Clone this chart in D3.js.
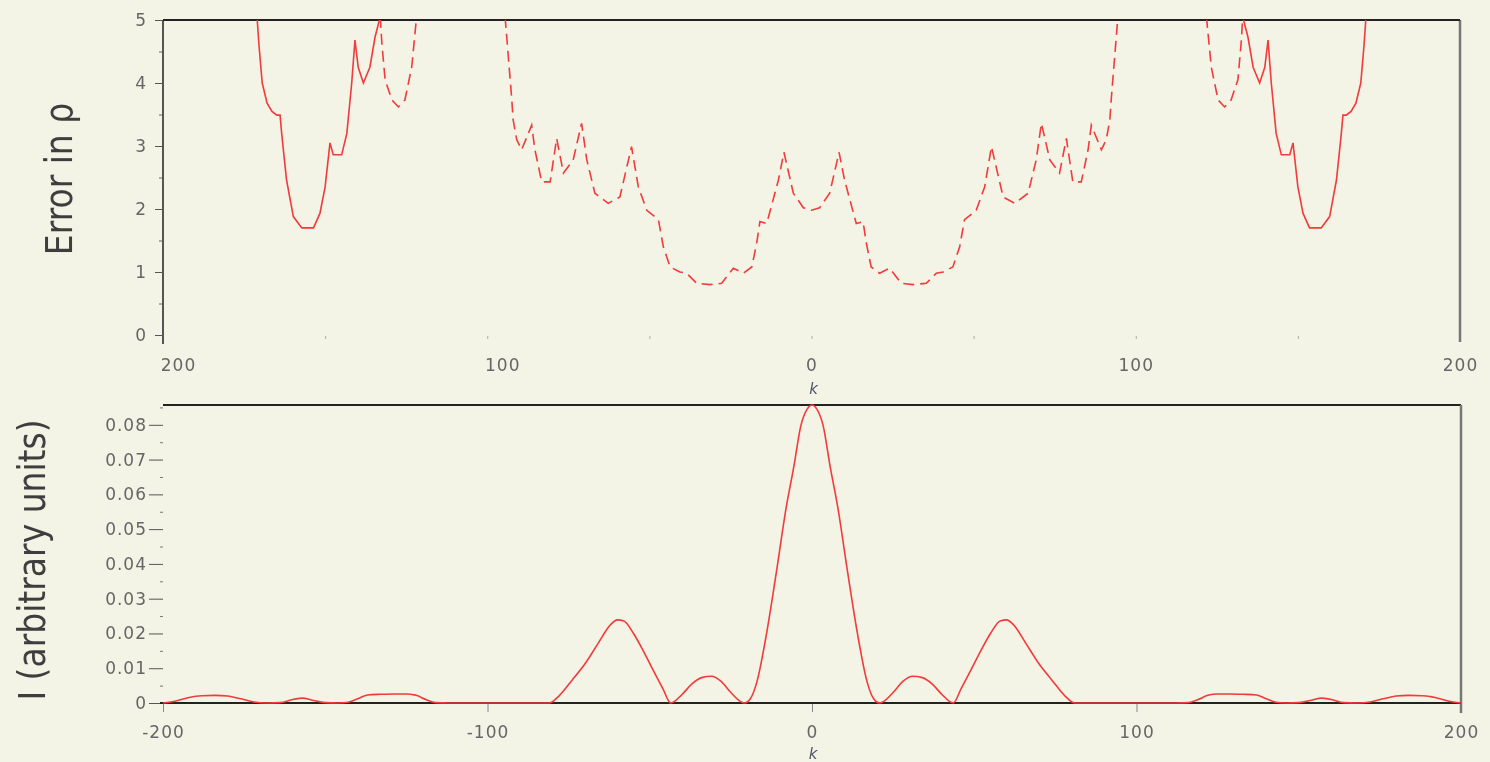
<!DOCTYPE html>
<html>
<head>
<meta charset="utf-8">
<script src="https://cdn.jsdelivr.net/npm/d3@7"></script>
<style>
  body { margin: 0; background: #f3f3e6; }
  svg { display: block; }
</style>
</head>
<body>
<svg id="chart"></svg>
<script>
// ---- tick values ----
const kTicks = [-200, -100, 0, 100, 200];
const kMinor = [-150, -50, 50, 150];
const errTicks = [0, 1, 2, 3, 4, 5];
const errMinor = [0.5, 1.5, 2.5, 3.5, 4.5];
const iTicks = [0, 0.01, 0.02, 0.03, 0.04, 0.05, 0.06, 0.07, 0.08];
const iMinor = [0.005, 0.015, 0.025, 0.035, 0.045, 0.055, 0.065, 0.075, 0.085];

// ---- top panel: error in rho, solid branch (null = gap) ----
const solidK = [-171.0,-170.4,-169.4,-167.9,-166.4,-164.9,-163.9,-163.4,-161.9,-159.8,-157.2,-153.6,-151.6,-150.0,-148.5,-147.5,-144.9,-143.3,-141.8,-140.8,-139.8,-138.2,-136.2,-134.6,-133.0,
  0,
  133.0,134.6,136.2,138.2,139.8,140.8,141.8,143.3,144.9,147.5,148.5,150.0,151.6,153.6,157.2,159.8,161.9,163.4,163.9,164.9,166.4,167.9,169.4,170.4,171.0];
const solidErr = [5.05,4.6,4.0,3.68,3.55,3.49,3.49,3.2,2.46,1.88,1.7,1.7,1.93,2.35,3.05,2.86,2.86,3.2,4.0,4.68,4.25,4.0,4.25,4.73,5.05,
  null,
  5.05,4.73,4.25,4.0,4.25,4.68,4.0,3.2,2.86,2.86,3.05,2.35,1.93,1.7,1.7,1.88,2.46,3.2,3.49,3.49,3.55,3.68,4.0,4.6,5.05];

// ---- top panel: dashed branch ----
const dashK = [-133.0,-132.5,-131.5,-129.4,-127.4,-125.4,-123.3,-121.8,
  -110,
  -94.5,-92.5,-92.0,-90.9,-89.4,-86.3,-85.3,-83.2,-80.6,-78.6,-76.5,-73.5,-70.9,-69.3,-66.8,-62.7,-59.1,-55.5,-53.4,-50.8,
  -47.2,-45.7,-43.6,-40.6,-38.5,-35.4,-31.3,-27.7,-24.1,-21.0,-18.4,-16.9,-15.9,-13.8,-10.2,-8.5,-5.6,-2.5,
  0,
  2.5,5.6,8.5,10.2,13.8,15.9,16.9,18.4,21.0,24.1,27.7,31.3,35.4,38.5,40.6,43.6,45.7,47.2,
  50.8,53.4,55.5,59.1,62.7,66.8,69.3,70.9,73.5,76.5,78.6,80.6,83.2,85.3,86.3,89.4,90.9,92.0,92.5,94.5,
  110,
  121.8,123.3,125.4,127.4,129.4,131.5,132.5,133.0];
const dashErr = [5.05,4.63,4.05,3.73,3.62,3.73,4.25,5.05,
  null,
  5.05,3.78,3.41,3.1,2.94,3.33,2.94,2.43,2.43,3.12,2.57,2.78,3.36,2.78,2.25,2.09,2.19,2.99,2.35,1.98,
  1.83,1.4,1.08,1.0,0.98,0.82,0.80,0.82,1.06,0.98,1.08,1.46,1.8,1.77,2.46,2.9,2.25,2.02,
  1.98,
  2.02,2.25,2.9,2.46,1.77,1.8,1.46,1.08,0.98,1.06,0.82,0.80,0.82,0.98,1.0,1.08,1.4,1.83,
  1.98,2.35,2.99,2.19,2.09,2.25,2.78,3.36,2.78,2.57,3.12,2.43,2.43,2.94,3.33,2.94,3.1,3.41,3.78,5.05,
  null,
  5.05,4.25,3.73,3.62,3.73,4.05,4.63,5.05];

// ---- bottom panel: intensity ----
const iK = [-200,-196,-192,-188,-184,-180,-176,-172,-168,-164,-160,-157,-154,-150,-146,-143,-140,-137,-133,-129,
  -125,-122,-119,-116,-112,-100,-90,-81,-78,-74,-70,-66,-62,-60,-58,-55,-52,-49,-46,-43.5,
  -40,-37,-34,-31,-28,-25,-22,-20.8,-19,-17,-14,-11,-8,-5.5,-3.5,-1.5,
  0,
  1.5,3.5,5.5,8,11,14,17,19,20.8,22,25,28,31,34,37,40,43.5,46,49,52,
  55,58,60,62,66,70,74,78,81,90,100,112,116,119,122,125,129,133,137,140,
  143,146,150,154,157,160,164,168,172,176,180,184,188,192,196,200];
const iVal = [0,0.0006,0.0016,0.0021,0.0022,0.0020,0.0012,0.0003,0,0.0001,0.0010,0.0014,0.0008,0.0001,0,0.0002,0.0012,0.0023,0.0025,0.0026,
  0.0026,0.0022,0.0010,0.0001,0,0,0,0,0.0020,0.0065,0.0112,0.0170,0.0226,0.0239,0.0236,0.0200,0.0150,0.0095,0.0042,0,
  0.0025,0.0055,0.0073,0.0077,0.0062,0.0030,0.0004,0,0.0012,0.0060,0.0200,0.0375,0.0560,0.0685,0.0795,0.0845,
  0.0857,
  0.0845,0.0795,0.0685,0.0560,0.0375,0.0200,0.0060,0.0012,0,0.0004,0.0030,0.0062,0.0077,0.0073,0.0055,0.0025,0,0.0042,0.0095,0.0150,
  0.0200,0.0236,0.0239,0.0226,0.0170,0.0112,0.0065,0.0020,0,0,0,0,0.0001,0.0010,0.0022,0.0026,0.0026,0.0025,0.0023,0.0012,
  0.0002,0,0.0001,0.0008,0.0014,0.0010,0.0001,0,0.0003,0.0012,0.0020,0.0022,0.0021,0.0016,0.0006,0];

const width = 1490, height = 762;
const red = "#f23a3a";
const tickGrey = "#666";
const fontFamily = "'DejaVu Sans', Verdana, sans-serif";

// scales
const x1 = d3.scaleLinear([-200, 200], [163, 1460]);
const y1 = d3.scaleLinear([0, 5], [335, 20]);
const x2 = d3.scaleLinear([-200, 200], [163, 1461]);
const y2 = d3.scaleLinear([0, 0.0857], [703, 405]);

const svg = d3.select("#chart")
  .attr("width", width)
  .attr("height", height)
  .attr("viewBox", [0, 0, width, height]);

svg.append("rect").attr("width", width).attr("height", height).attr("fill", "#f3f3e6");

const defs = svg.append("defs");
defs.append("filter").attr("id", "soft")
  .append("feGaussianBlur").attr("stdDeviation", 0.55);
defs.append("clipPath").attr("id", "clipTop")
  .append("rect")
  .attr("x", x1(-200)).attr("y", y1(5))
  .attr("width", x1(200) - x1(-200)).attr("height", y1(0) - y1(5) + 6);

const g = svg.append("g")
  .attr("filter", "url(#soft)")
  .style("font-family", fontFamily);

// styles axis texts the same way (axis sets its own font-family, override it)
const styleTicks = sel => sel
  .attr("font-family", null)
  .call(a => a.select(".domain").remove())
  .call(a => a.selectAll(".tick text")
    .attr("fill", tickGrey)
    .style("font-family", fontFamily)
    .style("font-size", "17px")
    .style("letter-spacing", "1px"));

// ================= top panel =================
// y axis
g.append("g")
  .attr("transform", `translate(${x1(-200)},0)`)
  .style("color", "#555")
  .call(d3.axisLeft(y1).tickValues(errTicks).tickSize(8).tickPadding(8).tickFormat(d3.format("d")))
  .call(styleTicks);
g.append("g")
  .attr("transform", `translate(${x1(-200)},0)`)
  .style("color", "#666")
  .call(d3.axisLeft(y1).tickValues(errMinor).tickSize(4).tickFormat(""))
  .call(a => a.select(".domain").remove());

// x axis: only tiny tick dots, labels without sign
g.append("g")
  .attr("transform", `translate(0,${y1(0) + 1})`)
  .style("color", "#aaa")
  .call(d3.axisBottom(x1).tickValues(kTicks.concat(kMinor)).tickSize(3).tickPadding(20)
    .tickFormat(d => kTicks.includes(d) ? Math.abs(d) : ""))
  .call(styleTicks)
  .call(a => a.selectAll(".tick text").attr("dx", d => d < 0 ? 15 : 0));

// frame of top panel
g.append("line")
  .attr("x1", x1(-200)).attr("x2", x1(-200))
  .attr("y1", y1(5)).attr("y2", y1(0) + 9)
  .attr("stroke", "#555").attr("stroke-width", 2);
g.append("line")
  .attr("x1", x1(200)).attr("x2", x1(200))
  .attr("y1", y1(5)).attr("y2", y1(0) + 7)
  .attr("stroke", "#777").attr("stroke-width", 2.5);
g.append("line")
  .attr("x1", x1(-200)).attr("x2", x1(200))
  .attr("y1", y1(5)).attr("y2", y1(5))
  .attr("stroke", "#222").attr("stroke-width", 2);

// curves
const solidData = solidK.map((k, i) => ({k: k, v: solidErr[i]}));
const dashData = dashK.map((k, i) => ({k: k, v: dashErr[i]}));
const errLine = d3.line()
  .defined(d => d.v != null)
  .x(d => x1(d.k))
  .y(d => y1(d.v));

const curves = g.append("g").attr("clip-path", "url(#clipTop)")
  .attr("fill", "none").attr("stroke", red).attr("stroke-width", 1.6);
curves.append("path").attr("d", errLine(solidData));
curves.append("path").attr("d", errLine(dashData)).attr("stroke-dasharray", "11,6");

g.append("text")
  .attr("transform", "translate(72,179) scale(1.15,1) rotate(-90)")
  .attr("text-anchor", "middle")
  .attr("fill", "#3d3d3d")
  .style("font-size", "33px")
  .text("Error in ρ");

g.append("text")
  .attr("x", x1(0) + 2).attr("y", 394)
  .attr("text-anchor", "middle")
  .attr("fill", "#4c5268")
  .style("font-size", "15px")
  .style("font-style", "italic")
  .text("k");

// ================= bottom panel =================
g.append("g")
  .attr("transform", `translate(${x2(-200)},0)`)
  .style("color", "#555")
  .call(d3.axisLeft(y2).tickValues(iTicks).tickSize(14).tickPadding(2)
    .tickFormat(d => d === 0 ? "0" : d3.format(".2f")(d)))
  .call(styleTicks);
g.append("g")
  .attr("transform", `translate(${x2(-200)},0)`)
  .style("color", "#777")
  .call(d3.axisLeft(y2).tickValues(iMinor).tickSize(3).tickFormat(""))
  .call(a => a.select(".domain").remove());

g.append("g")
  .attr("transform", `translate(0,${y2(0)})`)
  .style("color", "#888")
  .call(d3.axisBottom(x2).tickValues(kTicks).tickSize(9).tickPadding(14).tickFormat(d => String(d)))
  .call(styleTicks);

// frame of bottom panel
g.append("line")
  .attr("x1", x2(-200)).attr("x2", x2(200))
  .attr("y1", y2.range()[1]).attr("y2", y2.range()[1])
  .attr("stroke", "#222").attr("stroke-width", 2);
g.append("line")
  .attr("x1", x2(200)).attr("x2", x2(200))
  .attr("y1", y2.range()[1]).attr("y2", y2(0) + 10)
  .attr("stroke", "#777").attr("stroke-width", 2.5);
g.append("line")
  .attr("x1", x2(-200) - 3).attr("x2", x2(200))
  .attr("y1", y2(0)).attr("y2", y2(0))
  .attr("stroke", "#222").attr("stroke-width", 2);

const iData = iK.map((k, i) => ({k: k, v: iVal[i]}));
g.append("path")
  .attr("fill", "none")
  .attr("stroke", red)
  .attr("stroke-width", 1.6)
  .attr("d", d3.line().curve(d3.curveMonotoneX).x(d => x2(d.k)).y(d => y2(d.v))(iData));

g.append("text")
  .attr("transform", "translate(45,560) scale(1.15,1) rotate(-90)")
  .attr("text-anchor", "middle")
  .attr("fill", "#3d3d3d")
  .style("font-size", "33px")
  .text("I (arbitrary units)");

g.append("text")
  .attr("x", x2(0) + 1).attr("y", 759)
  .attr("text-anchor", "middle")
  .attr("fill", "#4c5268")
  .style("font-size", "15px")
  .style("font-style", "italic")
  .text("k");
</script>
</body>
</html>
